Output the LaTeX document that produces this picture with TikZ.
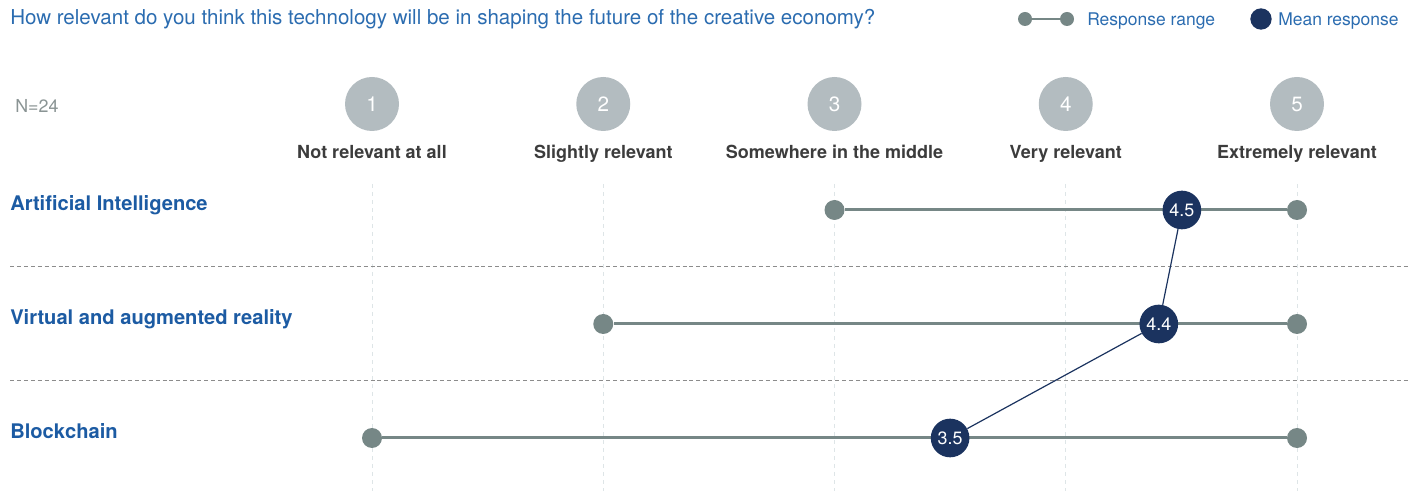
\documentclass[tikz,border=0pt]{standalone}
\usepackage{fontspec}
\setmainfont{TeX Gyre Heros}
\usetikzlibrary{positioning}

\definecolor{qblue}{HTML}{2B6CB0}
\definecolor{rowblue}{HTML}{1C5BA3}
\definecolor{hdrgray}{HTML}{B3BCC0}
\definecolor{rangegray}{HTML}{768786}
\definecolor{meannavy}{HTML}{1B335F}
\definecolor{lbldark}{HTML}{3C3C3C}
\definecolor{gridgray}{HTML}{DEE5E7}
\definecolor{sepgray}{HTML}{8C8C8C}
\definecolor{ngray}{HTML}{8A9494}

\tikzset{
  hdrcirc/.style={circle, fill=hdrgray, minimum size=40.5pt, inner sep=0pt, text=white, font=\fontsize{15.5}{18}\selectfont},
  hdrlbl/.style={anchor=base, text=lbldark, inner sep=0pt, font=\bfseries\fontsize{13.5}{16}\selectfont},
  rowlbl/.style={anchor=base west, text=rowblue, inner sep=0pt, font=\bfseries\fontsize{15.1}{18}\selectfont},
  bluetxt/.style={anchor=base west, text=qblue, inner sep=0pt, font=\fontsize{13.1}{15}\selectfont},
  rangedot/.style={circle, fill=rangegray, minimum size=15pt, inner sep=0pt},
  meancirc/.style={circle, fill=meannavy, minimum size=29pt, inner sep=0pt, text=white, font=\fontsize{13.4}{16}\selectfont},
  rangeline/.style={rangegray, line width=2.25pt},
  linkline/.style={meannavy, line width=0.9pt},
  gridline/.style={gridgray, line width=0.75pt, dash pattern=on 3pt off 3pt},
  sepline/.style={sepgray, line width=0.75pt, dash pattern=on 3pt off 2.2pt},
}

\begin{document}
\begin{tikzpicture}[x=0.75pt, y=-0.75pt]
  \useasboundingbox (0,0) rectangle (1421,491);

  % title and legend
  \node[bluetxt, font=\fontsize{15.4}{18}\selectfont] (title) at (10,25) {How relevant do you think this technology will be in shaping the future of the creative economy?};
  \node[rangedot, minimum size=10.5pt] (lg-lo) at (1025,19) {};
  \node[rangedot, minimum size=10.5pt] (lg-hi) at (1067,19) {};
  \draw[rangeline, line width=1.8pt] (lg-lo) -- (lg-hi);
  \node[bluetxt] (lg-range) at (1087,26) {Response range};
  \node[meancirc, minimum size=16pt] (lg-mean) at (1261,19) {};
  \node[bluetxt] (lg-meantxt) at (1278,26) {Mean response};

  \node[anchor=west, text=ngray, inner sep=0pt, font=\fontsize{13.4}{16}\selectfont] (n) at (15,106) {N=24};

  % scale columns
  \foreach \i/\t in {1/Not relevant at all, 2/Slightly relevant, 3/Somewhere in the middle, 4/Very relevant, 5/Extremely relevant} {
    \pgfmathsetmacro{\cx}{372+(\i-1)*231.25}
    \coordinate (v\i-top) at (\cx,184);
    \coordinate (v\i-bot) at (\cx,491);
    \draw[gridline] (v\i-top) -- (v\i-bot);
    \node[hdrcirc] (h\i) at (\cx,104) {\i};
    \node[hdrlbl] (l\i) at (\cx,159) {\t};
  }

  % separators
  \coordinate (s1-l) at (10,267);
  \coordinate (s1-r) at (1410,267);
  \coordinate (s2-l) at (10,381);
  \coordinate (s2-r) at (1410,381);
  \draw[sepline] (s1-l) -- (s1-r);
  \draw[sepline] (s2-l) -- (s2-r);

  % rows
  \node[rowlbl] (ai) at (10,211) {Artificial Intelligence};
  \node[rowlbl] (vr) at (10,325) {Virtual and augmented reality};
  \node[rowlbl] (bc) at (10,439) {Blockchain};

  \node[rangedot] (ai-lo) at (834.5,210) {};
  \node[rangedot] (ai-hi) at (1297,210) {};
  \node[rangedot] (vr-lo) at (603.25,324) {};
  \node[rangedot] (vr-hi) at (1297,324) {};
  \node[rangedot] (bc-lo) at (372,438) {};
  \node[rangedot] (bc-hi) at (1297,438) {};
  \draw[rangeline] (ai-lo) -- (ai-hi);
  \draw[rangeline] (vr-lo) -- (vr-hi);
  \draw[rangeline] (bc-lo) -- (bc-hi);

  \node[meancirc] (ai-m) at (1181.9,210) {4.5};
  \node[meancirc] (vr-m) at (1158.8,324) {4.4};
  \node[meancirc] (bc-m) at (950.1,438) {3.5};
  \draw[linkline] (ai-m) -- (vr-m);
  \draw[linkline] (vr-m) -- (bc-m);
\end{tikzpicture}
\end{document}
